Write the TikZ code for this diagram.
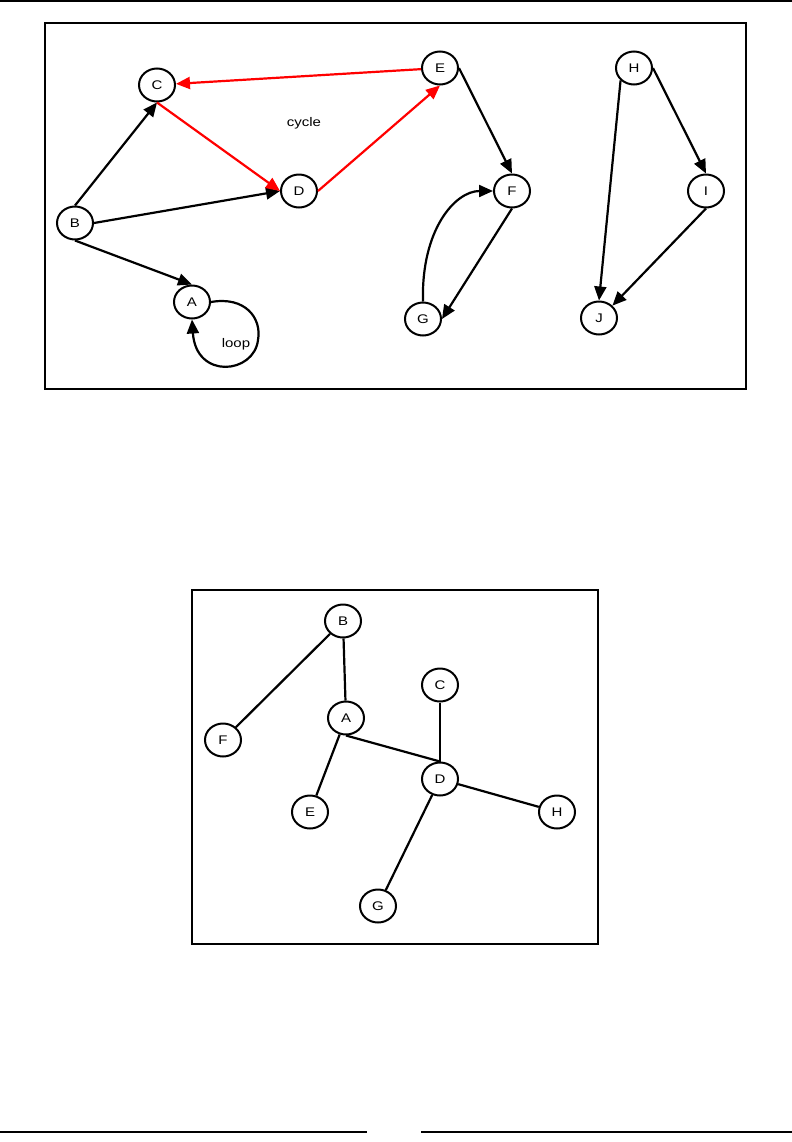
\documentclass[tikz,border=0pt]{standalone}
\usepackage{fontspec}
\setmainfont{Liberation Sans}[FakeStretch=1.2]
\usetikzlibrary{arrows.meta,shapes.geometric}

\begin{document}
\begin{tikzpicture}[
  x=1bp, y=-1bp,
  font=\fontsize{12.5bp}{14bp}\selectfont,
  >={Triangle[length=14bp,width=12bp]},
  vtx/.style={
    draw, ellipse, line width=2bp,
    minimum width=36bp, minimum height=33bp, inner sep=0pt
  },
  arr/.style={->, line width=2.2bp},
  redarr/.style={arr, red},
  link/.style={line width=2.2bp},
  frame/.style={line width=1.4bp},
  rule/.style={line width=1.8bp}
]
  \useasboundingbox (0,0) rectangle (792,1142);

  % page rules and frames
  \draw[rule] (0,1) -- (792,1);
  \draw[rule] (0,1132) -- (367,1132);
  \draw[rule] (421,1132) -- (792,1132);
  \draw[frame] (45,23) rectangle (746,389);
  \draw[frame] (192,590) rectangle (598,944);

  % Directed graph
  \node[vtx] (dC) at (157,85)  {C};
  \node[vtx] (dD) at (299,191) {D};
  \node[vtx] (dE) at (440,68)  {E};
  \node[vtx] (dB) at (75,223)  {B};
  \node[vtx] (dA) at (192,302) {A};
  \node[vtx] (dF) at (512,191) {F};
  \node[vtx] (dG) at (423,319) {G};
  \node[vtx] (dH) at (634,68)  {H};
  \node[vtx] (dI) at (706,191) {I};
  \node[vtx] (dJ) at (599,318) {J};
  \node (cyc)  at (304,123) {cycle};
  \node (lbl)  at (236,344) {loop};

  \draw[arr] (dB.north) -- (dC.south);
  \draw[arr] (dB.east) -- (dD.west);
  \draw[arr] (dB.south) -- (dA.north);
  \draw[redarr] (dC.south) -- (dD.west);
  \draw[redarr] (dD.east) -- (dE.south);
  \draw[redarr] (dE) -- (dC);
  \draw[arr] (dA.east) .. controls (245,296) and (262,318) .. (258,340)
    .. controls (254,374) and (196,380) .. (dA.south);
  \draw[arr] (dE.east) -- (dF.north);
  \draw[arr] (dF.south) -- (dG.east);
  \draw[arr] (dG.north) .. controls (421,230) and (455,191) .. (dF.west);
  \draw[arr] (dH.east) -- (dI.north);
  \draw[arr] (dH.south west) -- (dJ.north);
  \draw[arr] (dI.south) -- (dJ.north east);

  % Undirected tree
  \node[vtx] (uB) at (343,621) {B};
  \node[vtx] (uC) at (440,685) {C};
  \node[vtx] (uA) at (346,718) {A};
  \node[vtx] (uF) at (223,740) {F};
  \node[vtx] (uD) at (440,779) {D};
  \node[vtx] (uE) at (310,812) {E};
  \node[vtx] (uH) at (557,812) {H};
  \node[vtx] (uG) at (378,906) {G};

  \draw[link] (uB) -- (uF);
  \draw[link] (uB) -- (uA);
  \draw[link] (uA.south) -- (uD.north);
  \draw[link] (uA) -- (uE);
  \draw[link] (uC) -- (uD);
  \draw[link] (uD) -- (uH);
  \draw[link] (uD) -- (uG);

\end{tikzpicture}
\end{document}
